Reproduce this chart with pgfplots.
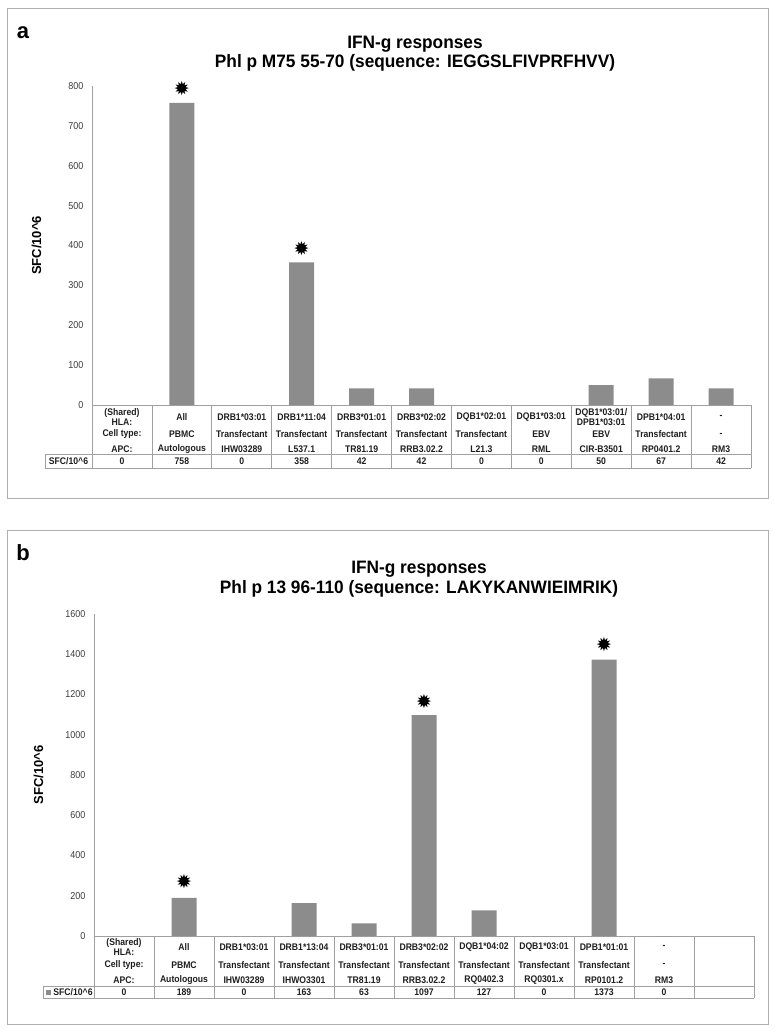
\documentclass[border=0pt]{standalone}
\usepackage{fontspec}
\setmainfont{Liberation Sans}
\newfontfamily\narrow{Liberation Sans}[FakeStretch=0.9]
\newfontfamily\titlefont{Liberation Sans}[FakeStretch=0.96]
\newfontfamily\symfont{DejaVu Sans}
\usepackage{pgfplots}
\pgfplotsset{compat=1.18}
\definecolor{bargray}{RGB}{140,140,140}
\definecolor{linegray}{RGB}{160,160,160}
\definecolor{framegray}{RGB}{175,175,175}
\definecolor{ticktext}{RGB}{60,60,60}
\definecolor{tabtext}{RGB}{30,30,30}

\pgfplotsset{
  panel/.style={
    anchor=south west, scale only axis,
    xmin=-0.5, xmax=10.5, ymin=0,
    xtick=\empty,
    axis x line=bottom, axis y line=left,
    axis line style={linegray,-, line width=0.8pt},
    major tick length=0pt,
    clip=false,
    /pgf/number format/assume math mode=true,
    /pgf/number format/1000 sep={},
    yticklabel style={font=\fontsize{10}{10}\narrow, text=ticktext, xshift=-5pt},
    ylabel={SFC/10\textasciicircum 6},
    ylabel style={font=\fontsize{13}{13}\selectfont\bfseries, at={(axis description cs:-0.084,0.5)}, anchor=center},
  }
}

\begin{document}
\begin{tikzpicture}
\begin{scope}[x=1pt,y=-1pt]
\useasboundingbox (0,0) rectangle (775,1031);
\draw[framegray, line width=1pt] (7,8) rectangle (768,498);
\draw[framegray, line width=1pt] (7,530) rectangle (768,1024);
\node[font=\fontsize{22}{22}\selectfont\bfseries] at (23,33) {a};
\node[font=\fontsize{22}{22}\selectfont\bfseries] at (23,553) {b};
\node[font=\fontsize{18}{19.5}\titlefont\bfseries, align=center] at (415,53.5) {IFN-g responses\\Phl p M75 55-70 (sequence: IEGGSLFIVPRFHVV)};
\node[font=\fontsize{18}{19.5}\titlefont\bfseries, align=center] at (419,579) {IFN-g responses\\Phl p 13 96-110 (sequence: LAKYKANWIEIMRIK)};
\end{scope}

% ---------------- panel a
\begin{axis}[panel, at={(92pt,-405pt)}, width=659pt, height=319pt, ymax=800, ytick={0,100,...,800}]
\addplot[ybar, bar width=25pt, fill=bargray, draw=none] coordinates {
 (0,0) (1,758) (2,0) (3,358) (4,42) (5,42) (6,0) (7,0) (8,50) (9,67) (10,42)};
\addplot[only marks, mark=text, text mark={\fontsize{19}{19}\symfont ✹}] coordinates {(1,793) (3,393)};
\end{axis}

% ---------------- panel b
\begin{axis}[panel, at={(94pt,-936pt)}, width=660pt, height=322pt, ymax=1600, ytick={0,200,...,1600}]
\addplot[ybar, bar width=25pt, fill=bargray, draw=none] coordinates {
 (0,0) (1,189) (2,0) (3,163) (4,63) (5,1097) (6,127) (7,0) (8,1373) (9,0)};
\addplot[only marks, mark=text, text mark={\fontsize{19}{19}\symfont ✹}] coordinates {(1,272) (5,1167) (8,1447)};
\end{axis}

\begin{scope}[x=1pt,y=-1pt, every node/.style={font=\fontsize{9.6}{9.6}\narrow\bfseries, text=tabtext, align=center, inner sep=0pt}]
% table a
\foreach \k in {0,...,11} \draw[linegray, line width=0.7pt] ({92+59.91*\k},405) -- ({92+59.91*\k},468);
\draw[linegray, line width=0.7pt] (45,454) -- (751,454) (45,468) -- (751,468) (45,454) -- (45,468);
\foreach \i/\h/\c/\a/\v in {
  0/{(Shared)\\HLA:}/{Cell type:}/{APC:}/0,
  1/All/PBMC/Autologous/758,
  2/DRB1*03:01/Transfectant/IHW03289/0,
  3/DRB1*11:04/Transfectant/L537.1/358,
  4/DRB3*01:01/Transfectant/TR81.19/42,
  5/DRB3*02:02/Transfectant/RRB3.02.2/42,
  6/DQB1*02:01/Transfectant/L21.3/0,
  7/DQB1*03:01/EBV/RML/0,
  8/{DQB1*03:01/\\DPB1*03:01}/EBV/CIR-B3501/50,
  9/DPB1*04:01/Transfectant/RP0401.2/67,
  10/-/-/RM3/42}{
  \node at ({92+59.91*(\i+0.5)},417) {\h};
  \node at ({92+59.91*(\i+0.5)},434.5) {\c};
  \node at ({92+59.91*(\i+0.5)},449) {\a};
  \node at ({92+59.91*(\i+0.5)},461.5) {\v};
}
\node at (68.5,461.5) {SFC/10\textasciicircum 6};

% table b
\foreach \k in {0,...,11} \draw[linegray, line width=0.7pt] ({94+60*\k},936) -- ({94+60*\k},998);
\draw[linegray, line width=0.7pt] (43,986) -- (754,986) (43,998) -- (754,998) (43,986) -- (43,998);
\foreach \i/\h/\c/\a/\v in {
  0/{(Shared)\\HLA:}/{Cell type:}/{APC:}/0,
  1/All/PBMC/Autologous/189,
  2/DRB1*03:01/Transfectant/IHW03289/0,
  3/DRB1*13:04/Transfectant/IHWO3301/163,
  4/DRB3*01:01/Transfectant/TR81.19/63,
  5/DRB3*02:02/Transfectant/RRB3.02.2/1097,
  6/DQB1*04:02/Transfectant/RQ0402.3/127,
  7/DQB1*03:01/Transfectant/RQ0301.x/0,
  8/DPB1*01:01/Transfectant/RP0101.2/1373,
  9/-/-/RM3/0}{
  \node at ({94+60*(\i+0.5)},947) {\h};
  \node at ({94+60*(\i+0.5)},965) {\c};
  \node at ({94+60*(\i+0.5)},980) {\a};
  \node at ({94+60*(\i+0.5)},992) {\v};
}
\fill[bargray] (46,989.5) rectangle (51,994.5);
\node at (73,992) {SFC/10\textasciicircum 6};
\end{scope}
\end{tikzpicture}
\end{document}
